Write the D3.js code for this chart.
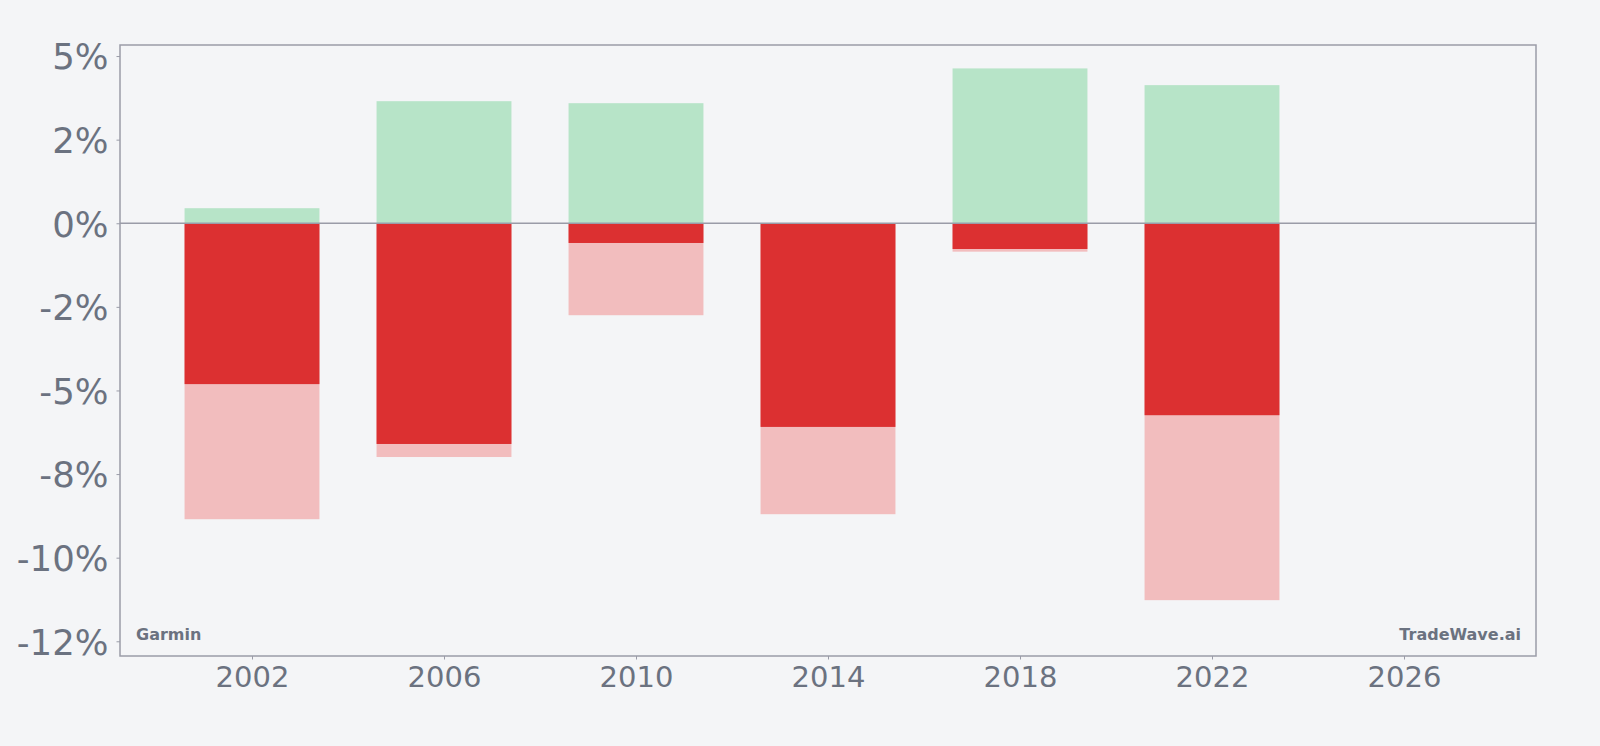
<!DOCTYPE html>
<html>
<head>
<meta charset="utf-8">
<script src="https://cdn.jsdelivr.net/npm/d3@7"></script>
<style>
  html, body { margin: 0; padding: 0; background: #f4f5f7; }
  svg { display: block; font-family: "DejaVu Sans", sans-serif; }
</style>
</head>
<body>
<svg id="chart" width="1600" height="746"></svg>
<script>
// Data (percent)
const years = [2002, 2006, 2010, 2014, 2018, 2022];
const gains = [0.45, 3.65, 3.59, 0, 4.63, 4.13];
const drawdowns = [-4.81, -6.60, -0.59, -6.09, -0.77, -5.74];
const maxDrawdowns = [-8.85, -6.99, -2.75, -8.70, -0.85, -11.27];

const xTicks = [2002, 2006, 2010, 2014, 2018, 2022, 2026];
const yTicks = [5, 2.5, 0, -2.5, -5, -7.5, -10, -12.5];
const yTickLabels = ["5%", "2%", "0%", "-2%", "-5%", "-8%", "-10%", "-12%"];

const margin = { top: 45, right: 64, bottom: 90, left: 120 };
const width = 1600 - margin.left - margin.right;
const height = 746 - margin.top - margin.bottom;
const barWidth = 2.81; // in years
const font = "DejaVu Sans, sans-serif";

const colGreen = "#b7e4c8";
const colRed = "#dc3031";
const colLight = "#f2bdbe";
const colAxis = "#9a9ca8";
const colText = "#6b7280";

const svg = d3.select("#chart");
const g = svg.append("g")
    .attr("transform", "translate(" + margin.left + "," + margin.top + ")");

const x = d3.scaleLinear().domain([1999.25, 2028.75]).range([0, width]);
const y = d3.scaleLinear().domain([-12.94, 5.33]).range([height, 0]);

const rows = years.map(function(yr, i) {
    return { year: yr, gain: gains[i], dd: drawdowns[i], maxdd: maxDrawdowns[i] };
});

// light (max drawdown) first, then dark drawdown on top
g.selectAll(".maxdd").data(rows).enter().append("rect")
    .attr("x", function(d) { return x(d.year - barWidth / 2); })
    .attr("width", function(d) { return x(d.year + barWidth / 2) - x(d.year - barWidth / 2); })
    .attr("y", y(0))
    .attr("height", function(d) { return y(d.maxdd) - y(0); })
    .attr("fill", colLight);

g.selectAll(".dd").data(rows).enter().append("rect")
    .attr("x", function(d) { return x(d.year - barWidth / 2); })
    .attr("width", function(d) { return x(d.year + barWidth / 2) - x(d.year - barWidth / 2); })
    .attr("y", y(0))
    .attr("height", function(d) { return y(d.dd) - y(0); })
    .attr("fill", colRed);

g.selectAll(".gain").data(rows.filter(function(d) { return d.gain > 0; })).enter().append("rect")
    .attr("x", function(d) { return x(d.year - barWidth / 2); })
    .attr("width", function(d) { return x(d.year + barWidth / 2) - x(d.year - barWidth / 2); })
    .attr("y", function(d) { return y(d.gain); })
    .attr("height", function(d) { return y(0) - y(d.gain); })
    .attr("fill", colGreen);

// zero line
g.append("line")
    .attr("x1", 0).attr("x2", width)
    .attr("y1", y(0)).attr("y2", y(0))
    .attr("stroke", colAxis)
    .attr("stroke-width", 1.5);

// axes
const yAxis = g.append("g")
    .call(d3.axisLeft(y).tickValues(yTicks).tickSize(3.5).tickPadding(8)
        .tickFormat(function(d, i) { return yTickLabels[i]; }));
yAxis.attr("font-family", font);
yAxis.select(".domain").remove();
yAxis.selectAll("line").attr("stroke", colAxis);
yAxis.selectAll("text")
    .attr("fill", colText)
    .style("font-size", "35.5px")
    .attr("dy", "0.36em");

const xAxis = g.append("g")
    .attr("transform", "translate(0," + height + ")")
    .call(d3.axisBottom(x).tickValues(xTicks).tickSize(3.5).tickPadding(7)
        .tickFormat(d3.format("d")));
xAxis.attr("font-family", font);
xAxis.select(".domain").remove();
xAxis.selectAll("line").attr("stroke", colAxis);
xAxis.selectAll("text")
    .attr("fill", colText)
    .style("font-size", "29px");

// frame
g.append("rect")
    .attr("width", width).attr("height", height)
    .attr("fill", "none")
    .attr("stroke", colAxis)
    .attr("stroke-width", 1.5);

// corner labels
g.append("text")
    .attr("x", 16).attr("y", height - 16)
    .attr("fill", colText)
    .style("font-size", "16px").style("font-weight", "bold")
    .text("Garmin");
g.append("text")
    .attr("x", width - 15).attr("y", height - 16)
    .attr("text-anchor", "end")
    .attr("fill", colText)
    .style("font-size", "16px").style("font-weight", "bold")
    .text("TradeWave.ai");
</script>
</body>
</html>
